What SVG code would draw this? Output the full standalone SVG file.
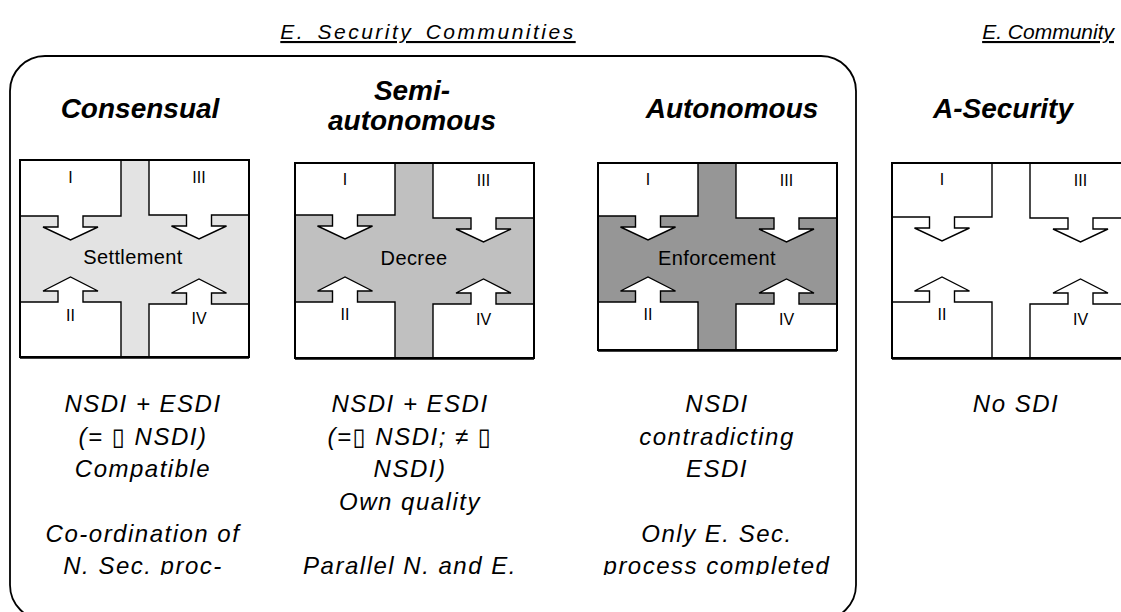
<svg xmlns="http://www.w3.org/2000/svg" width="1121" height="612" viewBox="0 0 1121 612">
<defs>
<style>
.box{fill:#fff;stroke:#000;stroke-width:1.4;stroke-linejoin:miter}
.frame{fill:none;stroke:#000;stroke-width:2}
.num{font-family:"Liberation Sans",Arial,sans-serif;font-size:16px;text-anchor:middle;fill:#000}
.mid{font-family:"Liberation Sans",Arial,sans-serif;font-size:20px;letter-spacing:0.4px;text-anchor:middle;fill:#000}
.head{font-family:"Liberation Sans",Arial,sans-serif;font-size:28px;font-weight:bold;font-style:italic;text-anchor:middle;fill:#000}
.title{font-family:"Liberation Sans",Arial,sans-serif;font-size:21px;font-style:italic;text-decoration:underline;fill:#000}
.body{font-family:"Liberation Sans","DejaVu Sans",Arial,sans-serif;font-size:24px;font-style:italic;letter-spacing:1.5px;text-anchor:middle;fill:#000}
</style>
<clipPath id="textclip"><rect x="0" y="0" width="1121" height="575"/></clipPath>
</defs>
<rect width="1121" height="612" fill="#fff"/>

<g id="titles">
<text class="title" x="428" y="39" text-anchor="middle" letter-spacing="2.5" word-spacing="4">E. Security Communities</text>
<text class="title" x="1114" y="39" text-anchor="end" font-size="20">E. Community</text>
</g>

<g id="container">
<rect x="10" y="56" width="846" height="564" rx="35" ry="35" fill="none" stroke="#000" stroke-width="1.8"/>
</g>

<g id="headings">
<text class="head" x="140" y="118">Consensual</text>
<text class="head" x="412" y="100">Semi-</text>
<text class="head" x="412" y="130">autonomous</text>
<text class="head" x="732" y="118">Autonomous</text>
<text class="head" x="1003" y="118">A-Security</text>
</g>

<g id="panel-consensual">
<rect x="20" y="160" width="229" height="197" fill="#e3e3e3"/>
<polygon class="box" points="20,160 121,160 121,216 83,216 83,227 98,227 70.5,240 43,227 58,227 58,216 20,216"/>
<polygon class="box" points="149,160 249,160 249,215 211.5,215 211.5,226 226.5,226 199,239 171.5,226 186.5,226 186.5,215 149,215"/>
<polygon class="box" points="20,302 58,302 58,291 43,291 70.5,277 98,291 83,291 83,302 121,302 121,357 20,357"/>
<polygon class="box" points="149,304 186.5,304 186.5,293 171.5,293 199,279 226.5,293 211.5,293 211.5,304 249,304 249,357 149,357"/>
<rect class="frame" x="20" y="160" width="229" height="197"/>
<line x1="20" y1="357.5" x2="249" y2="357.5" stroke="#000" stroke-width="2.5"/>
<text class="num" x="70.5" y="183">I</text>
<text class="num" x="199" y="183">III</text>
<text class="num" x="70.5" y="321">II</text>
<text class="num" x="199" y="324">IV</text>
<text class="mid" x="133" y="264">Settlement</text>
</g>

<g id="panel-semi">
<rect x="295" y="163" width="239" height="195" fill="#c0c0c0"/>
<polygon class="box" points="295,163 395,163 395,215 357.5,215 357.5,226 372.5,226 345,239 317.5,226 332.5,226 332.5,215 295,215"/>
<polygon class="box" points="433,163 534,163 534,218 496,218 496,229 511,229 483.5,242 456,229 471,229 471,218 433,218"/>
<polygon class="box" points="295,302 332.5,302 332.5,291 317.5,291 345,277 372.5,291 357.5,291 357.5,302 395,302 395,358 295,358"/>
<polygon class="box" points="433,304 471,304 471,293 456,293 483.5,279 511,293 496,293 496,304 534,304 534,358 433,358"/>
<rect class="frame" x="295" y="163" width="239" height="195"/>
<line x1="295" y1="358.5" x2="534" y2="358.5" stroke="#000" stroke-width="2.5"/>
<text class="num" x="345" y="185">I</text>
<text class="num" x="483.5" y="186">III</text>
<text class="num" x="345" y="320">II</text>
<text class="num" x="483.5" y="325">IV</text>
<text class="mid" x="414" y="265">Decree</text>
</g>

<g id="panel-autonomous">
<rect x="598" y="163" width="239" height="187" fill="#969696"/>
<polygon class="box" points="598,163 698,163 698,216 660.5,216 660.5,227 675.5,227 648,240 620.5,227 635.5,227 635.5,216 598,216"/>
<polygon class="box" points="736,163 837,163 837,218 799,218 799,229 814,229 786.5,242 759,229 774,229 774,218 736,218"/>
<polygon class="box" points="598,302 635.5,302 635.5,291 620.5,291 648,277 675.5,291 660.5,291 660.5,302 698,302 698,350 598,350"/>
<polygon class="box" points="736,304 774,304 774,293 759,293 786.5,279 814,293 799,293 799,304 837,304 837,350 736,350"/>
<rect class="frame" x="598" y="163" width="239" height="187"/>
<line x1="598" y1="350.5" x2="837" y2="350.5" stroke="#000" stroke-width="2.5"/>
<text class="num" x="648" y="185">I</text>
<text class="num" x="786.5" y="186">III</text>
<text class="num" x="648" y="320">II</text>
<text class="num" x="786.5" y="325">IV</text>
<text class="mid" x="717" y="265">Enforcement</text>
</g>

<g id="panel-asecurity">
<rect x="892" y="163" width="239" height="195" fill="#fff"/>
<polygon class="box" points="892,163 992,163 992,217 954.5,217 954.5,228 969.5,228 942,241 914.5,228 929.5,228 929.5,217 892,217"/>
<polygon class="box" points="1030,163 1131,163 1131,218 1093,218 1093,229 1108,229 1080.5,242 1053,229 1068,229 1068,218 1030,218"/>
<polygon class="box" points="892,302 929.5,302 929.5,291 914.5,291 942,277 969.5,291 954.5,291 954.5,302 992,302 992,358 892,358"/>
<polygon class="box" points="1030,304 1068,304 1068,293 1053,293 1080.5,279 1108,293 1093,293 1093,304 1131,304 1131,358 1030,358"/>
<rect class="frame" x="892" y="163" width="239" height="195"/>
<line x1="892" y1="358.5" x2="1121" y2="358.5" stroke="#000" stroke-width="2.5"/>
<text class="num" x="942" y="185">I</text>
<text class="num" x="1080.5" y="186">III</text>
<text class="num" x="942" y="320">II</text>
<text class="num" x="1080.5" y="325">IV</text>
</g>

<g id="connectors"></g>

<g id="descriptions" clip-path="url(#textclip)">
<text class="body" x="143" y="412">NSDI + ESDI</text>
<text class="body" x="143" y="444.5">(= ▯ NSDI)</text>
<text class="body" x="143" y="477">Compatible</text>
<text class="body" x="143" y="541.5">Co-ordination of</text>
<text class="body" x="143" y="574">N. Sec. proc-</text>

<text class="body" x="410" y="412">NSDI + ESDI</text>
<text class="body" x="410" y="444.5">(=▯ NSDI; ≠ ▯</text>
<text class="body" x="410" y="477">NSDI)</text>
<text class="body" x="410" y="509.5">Own quality</text>
<text class="body" x="410" y="574">Parallel N. and E.</text>

<text class="body" x="717" y="412">NSDI</text>
<text class="body" x="717" y="444.5">contradicting</text>
<text class="body" x="717" y="477">ESDI</text>
<text class="body" x="717" y="541.5">Only E. Sec.</text>
<text class="body" x="717" y="574">process completed</text>

<text class="body" x="1016" y="412">No SDI</text>
</g>
</svg>
